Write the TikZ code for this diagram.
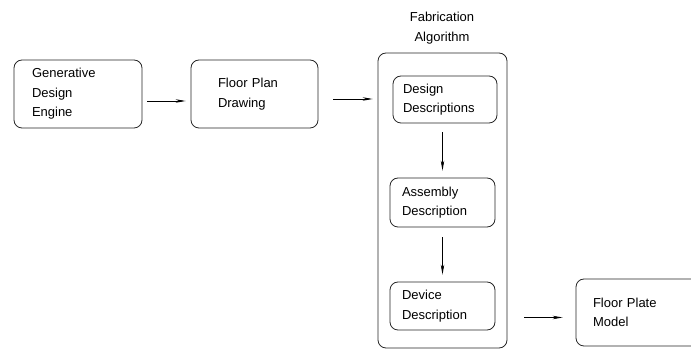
\documentclass[tikz,border=0pt]{standalone}
\usepackage{fontspec}
\setmainfont{Liberation Sans}
\usetikzlibrary{arrows.meta}
\begin{document}
\begin{tikzpicture}[
    x=1pt,y=-1pt,
    fabBoxS/.style={rectangle,rounded corners=8pt,draw=black!85,line width=0.8pt,align=left,
        font=\fontsize{13}{19.5}\selectfont,inner ysep=0pt},
    fabArrowS/.style={->,>={Stealth[length=10pt,width=3.5pt]},line width=0.8pt},
]
\useasboundingbox (0,0) rectangle (691,352);
\node[fabBoxS,minimum width=128pt,minimum height=68pt,inner xsep=18pt,text width=92pt] (gde) at (78,94) {Generative\\Design\\Engine};
\node[fabBoxS,minimum width=127pt,minimum height=68pt,inner xsep=27pt,text width=73pt] (fpd) at (254.5,94) {Floor Plan\\Drawing};
\node[fabBoxS,minimum width=129pt,minimum height=295pt] (fab) at (442.5,200.5) {};
\node[font=\fontsize{13}{19.5}\selectfont,align=center] (fabT) at (442,28) {Fabrication\\Algorithm};
\node[fabBoxS,minimum width=104pt,minimum height=47pt,inner xsep=10pt,text width=84pt] (dsn) at (445,99.5) {Design\\Descriptions};
\node[fabBoxS,minimum width=105pt,minimum height=49pt,inner xsep=12pt,text width=81pt] (asm) at (442.5,202.5) {Assembly\\Description};
\node[fabBoxS,minimum width=105pt,minimum height=48pt,inner xsep=12pt,text width=81pt] (dev) at (442.5,306) {Device\\Description};
\node[fabBoxS,minimum width=124pt,minimum height=67pt,inner xsep=17pt,text width=90pt] (fpm) at (638,312.5) {Floor Plate\\Model};
% arrows
\draw[fabArrowS,shorten <=5pt,shorten >=5pt] ([yshift=-7pt]gde.east) -- ([yshift=-7pt]fpd.west);
\draw[fabArrowS,shorten <=15pt,shorten >=5pt] ([yshift=-5pt]fpd.east) -- ([yshift=-5pt]fpd.east -| fab.west);
\draw[fabArrowS,shorten <=9pt,shorten >=7pt] (dsn.south -| asm.north) -- (asm.north);
\draw[fabArrowS,shorten <=10pt,shorten >=7pt] (asm.south) -- (dev.north);
\draw[fabArrowS,shorten <=29pt,shorten >=13pt] ([yshift=-5pt]fpm.west -| dev.east) -- ([yshift=-5pt]fpm.west);
\end{tikzpicture}
\end{document}
